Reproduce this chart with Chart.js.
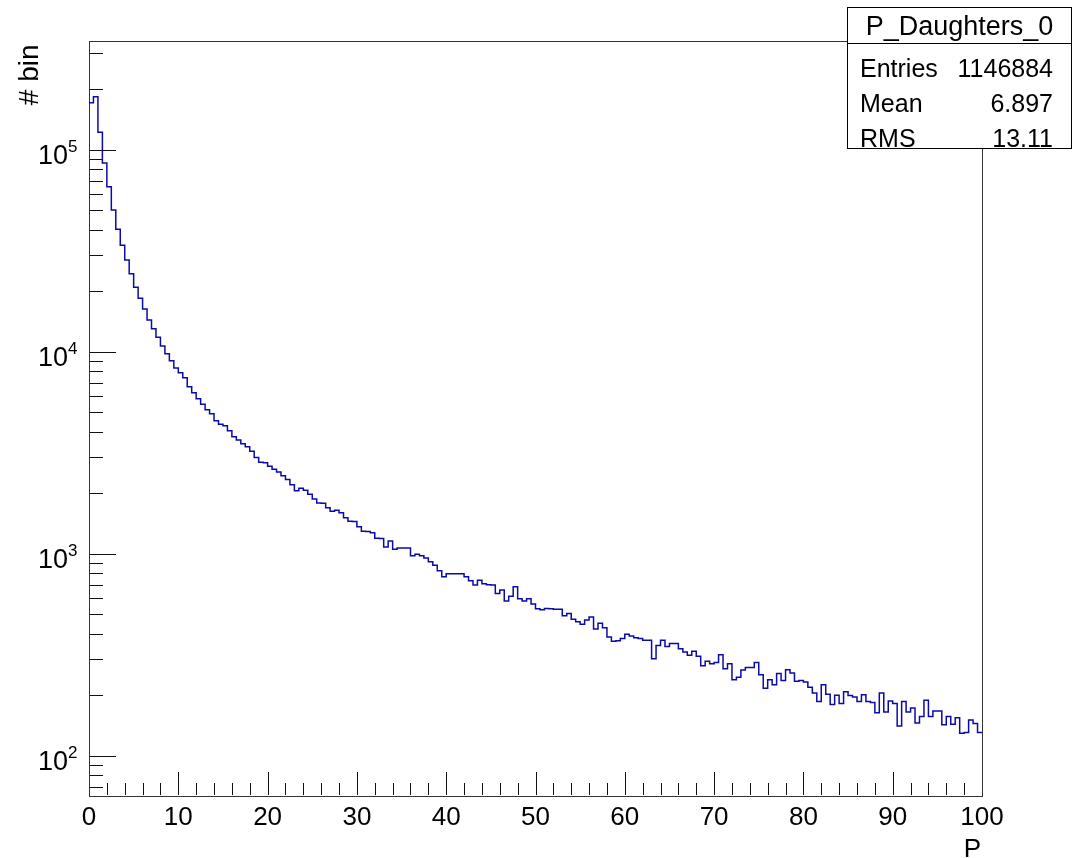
<!DOCTYPE html>
<html>
<head>
<meta charset="UTF-8">
<title>P_Daughters_0</title>
<style>
  body { margin: 0; background: #fff; }
  canvas { display: block; }
</style>
<script src="https://cdn.jsdelivr.net/npm/chart.js"></script>
</head>
<body>
<canvas id="hist" width="1077" height="858"></canvas>
<script>
// histogram P_Daughters_0 : 200 bins of 0.5 between 0 and 100
const histName = 'P_Daughters_0';
const binWidth = 0.5;
const counts = [
  170500, 182600, 121600, 85770, 65430, 50180, 40270, 33560, 28380, 24270,
  20780, 18340, 16230, 14320, 12970, 11760, 10650, 9752, 9004, 8285,
  7852, 7418, 6694, 6252, 5839, 5479, 5151, 4921, 4544, 4362,
  4293, 4054, 3786, 3647, 3496, 3379, 3206, 2987, 2830, 2815,
  2705, 2611, 2532, 2425, 2325, 2191, 2046, 2103, 2056, 1964,
  1861, 1780, 1775, 1686, 1618, 1636, 1592, 1504, 1445, 1440,
  1357, 1290, 1286, 1268, 1190, 1188, 1077, 1153, 1049, 1066,
  1064, 1065, 975, 991, 975, 950, 911, 874, 822, 768,
  795, 793, 794, 794, 768, 733, 699, 737, 709, 700,
  698, 634, 660, 582, 614, 685, 597, 582, 597, 562,
  533, 527, 534, 532, 529, 529, 492, 504, 472, 460,
  446, 469, 485, 423, 451, 429, 386, 368, 370, 380,
  398, 390, 383, 379, 372, 372, 301, 350, 372, 346,
  358, 358, 338, 325, 314, 328, 310, 278, 293, 285,
  289, 315, 269, 285, 237, 244, 265, 273, 273, 289,
  251, 215, 237, 224, 255, 235, 266, 256, 233, 235,
  231, 218, 204, 185, 224, 201, 179, 199, 181, 207,
  198, 195, 185, 200, 185, 183, 163, 204, 164, 186,
  181, 140, 185, 164, 172, 145, 156, 188, 156, 166,
  166, 142, 156, 143, 154, 129, 130, 150, 144, 130
];

const xMin = 0, xMax = 100;
const yMin = 63.75, yMax = 346500;
const xMajorTicks = [0, 10, 20, 30, 40, 50, 60, 70, 80, 90, 100];
const xTickLabels = ['0', '10', '20', '30', '40', '50', '60', '70', '80', '90', '100'];
const xMinorStep = 2;
const yDecades = [100, 1000, 10000, 100000];
const yDecadeExp = ['2', '3', '4', '5'];
const xTitle = 'P';
const yTitle = '# bin';
const statsLabels = ['Entries', 'Mean', 'RMS'];
const statsValues = ['1146884', '6.897', '13.11'];

// step outline: one point per bin low edge + closing point at the upper edge
const points = counts.map((c, i) => ({ x: i * binWidth, y: c }));
points.push({ x: counts.length * binWidth, y: counts[counts.length - 1] });

const FONT = '"Liberation Sans", Arial, Helvetica, sans-serif';

const rootStyle = {
  id: 'rootStyle',
  beforeDatasetsDraw(chart) {
    const ctx = chart.ctx;
    const a = chart.chartArea;
    const xs = chart.scales.x, ys = chart.scales.y;
    ctx.save();
    // ticks, inside the frame
    ctx.strokeStyle = '#111';
    ctx.lineWidth = 1;
    ctx.beginPath();
    for (let v = xMin; v <= xMax + 1e-9; v += xMinorStep) {
      const px = Math.round(xs.getPixelForValue(v)) + 0.5;
      const major = xMajorTicks.includes(Math.round(v));
      ctx.moveTo(px, a.bottom);
      ctx.lineTo(px, a.bottom - (major ? 23 : 12));
    }
    yDecades.concat([10]).forEach(d => {
      for (let k = 1; k <= 9; k++) {
        const v = d * k;
        if (v < yMin || v > yMax) continue;
        const py = Math.round(ys.getPixelForValue(v)) + 0.5;
        ctx.moveTo(a.left, py);
        ctx.lineTo(a.left + (k === 1 ? 27 : 14), py);
      }
    });
    ctx.stroke();
    // frame
    ctx.strokeStyle = '#333';
    ctx.strokeRect(Math.round(a.left) + 0.5, Math.round(a.top) + 0.5,
      Math.round(a.right - a.left), Math.round(a.bottom - a.top));
    ctx.restore();
  },
  afterDraw(chart) {
    const ctx = chart.ctx;
    const a = chart.chartArea;
    const xs = chart.scales.x, ys = chart.scales.y;
    ctx.save();
    ctx.fillStyle = '#000';
    ctx.textBaseline = 'alphabetic';

    // x labels
    ctx.font = '26px ' + FONT;
    ctx.textAlign = 'center';
    xMajorTicks.forEach((v, i) => {
      ctx.fillText(xTickLabels[i], xs.getPixelForValue(v), 825);
    });

    // y labels 10^n
    yDecades.forEach((v, i) => {
      const py = ys.getPixelForValue(v);
      ctx.font = '27px ' + FONT;
      ctx.textAlign = 'right';
      ctx.fillText('10', 68, py + 14);
      ctx.font = '17px ' + FONT;
      ctx.textAlign = 'left';
      ctx.fillText(yDecadeExp[i], 68, py + 2);
    });

    // axis titles
    ctx.font = '26px ' + FONT;
    ctx.textAlign = 'right';
    ctx.fillText(xTitle, a.right - 1, 857);
    ctx.save();
    ctx.translate(38, a.top + 4);
    ctx.rotate(-Math.PI / 2);
    ctx.font = '28px ' + FONT;
    ctx.textAlign = 'right';
    ctx.fillText(yTitle, 0, 0);
    ctx.restore();

    // stats box
    const bx = 847.5, by = 7.5, bw = 224, bh = 141;
    ctx.fillStyle = '#fff';
    ctx.fillRect(bx, by, bw, bh);
    ctx.strokeStyle = '#000';
    ctx.lineWidth = 1;
    ctx.strokeRect(bx, by, bw, bh);
    ctx.beginPath();
    ctx.moveTo(bx, 43.5);
    ctx.lineTo(bx + bw, 43.5);
    ctx.stroke();
    ctx.fillStyle = '#000';
    ctx.font = '27px ' + FONT;
    ctx.textAlign = 'center';
    ctx.fillText(histName, bx + bw / 2, 35);
    ctx.font = '25px ' + FONT;
    const rows = [76.5, 112, 147];
    statsLabels.forEach((lab, i) => {
      ctx.textAlign = 'left';
      ctx.fillText(lab, 860, rows[i]);
      ctx.textAlign = 'right';
      ctx.fillText(statsValues[i], 1053, rows[i]);
    });
    ctx.restore();
  }
};

new Chart(document.getElementById('hist').getContext('2d'), {
  type: 'line',
  data: {
    datasets: [{
      label: histName,
      data: points,
      stepped: true,
      borderColor: '#0a0aa8',
      borderWidth: 1.5,
      pointRadius: 0,
      fill: false,
      tension: 0
    }]
  },
  options: {
    responsive: false,
    animation: false,
    devicePixelRatio: 1,
    layout: { padding: { left: 89, right: 95, top: 40.5, bottom: 63 } },
    plugins: { legend: { display: false }, tooltip: { enabled: false } },
    scales: {
      x: { type: 'linear', min: xMin, max: xMax, display: false },
      y: { type: 'logarithmic', min: yMin, max: yMax, display: false }
    }
  },
  plugins: [rootStyle]
});
</script>
</body>
</html>
